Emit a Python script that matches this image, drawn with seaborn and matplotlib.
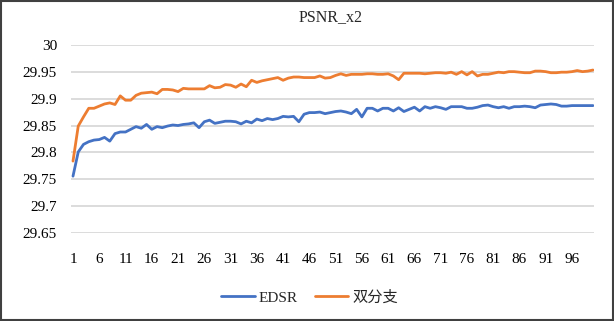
import matplotlib
matplotlib.use("Agg")
import matplotlib.pyplot as plt
from matplotlib.patches import Rectangle
import numpy as np
import pandas as pd
import seaborn as sns

# ---- data ----
epochs = list(range(1, 101))
edsr = [
    29.756, 29.801, 29.815, 29.820, 29.823, 29.824, 29.828, 29.821, 29.835, 29.838,
    29.838, 29.843, 29.848, 29.845, 29.852, 29.843, 29.848, 29.846, 29.849, 29.851,
    29.850, 29.852, 29.853, 29.855, 29.846, 29.857, 29.860, 29.854, 29.856, 29.858,
    29.858, 29.857, 29.853, 29.858, 29.855, 29.862, 29.859, 29.863, 29.861, 29.863,
    29.867, 29.866, 29.867, 29.857, 29.871, 29.874, 29.874, 29.875, 29.872, 29.874,
    29.876, 29.877, 29.875, 29.872, 29.880, 29.866, 29.882, 29.882, 29.877, 29.882,
    29.882, 29.877, 29.883, 29.876, 29.880, 29.884, 29.877, 29.885, 29.882, 29.885,
    29.883, 29.880, 29.885, 29.885, 29.885, 29.882, 29.882, 29.884, 29.887, 29.888,
    29.885, 29.883, 29.885, 29.882, 29.885, 29.885, 29.886, 29.885, 29.883, 29.888,
    29.889, 29.890, 29.889, 29.886, 29.886, 29.887, 29.887, 29.887, 29.887, 29.887,
]
dual = [
    29.784, 29.849, 29.866, 29.882, 29.882, 29.886, 29.890, 29.892, 29.889, 29.905,
    29.897, 29.897, 29.906, 29.910, 29.911, 29.912, 29.909, 29.917, 29.917, 29.916,
    29.913, 29.919, 29.918, 29.918, 29.918, 29.918, 29.924, 29.920, 29.921, 29.926,
    29.925, 29.921, 29.927, 29.922, 29.934, 29.930, 29.933, 29.935, 29.937, 29.939,
    29.934, 29.938, 29.940, 29.940, 29.939, 29.939, 29.939, 29.942, 29.938, 29.939,
    29.943, 29.946, 29.943, 29.945, 29.945, 29.945, 29.946, 29.946, 29.945, 29.945,
    29.946, 29.942, 29.935, 29.947, 29.947, 29.947, 29.947, 29.946, 29.947, 29.948,
    29.948, 29.947, 29.949, 29.945, 29.950, 29.944, 29.950, 29.942, 29.945, 29.945,
    29.947, 29.949, 29.948, 29.950, 29.950, 29.949, 29.948, 29.948, 29.951, 29.951,
    29.950, 29.948, 29.948, 29.949, 29.949, 29.950, 29.952, 29.950, 29.951, 29.953,
]
series_names = ["EDSR", "双分支"]
colors = ["#4472C4", "#ED7D31"]
y_ticks = [29.65, 29.7, 29.75, 29.8, 29.85, 29.9, 29.95, 30.0]
x_ticks = list(range(1, 100, 5))
title = "PSNR_x2"

df = pd.DataFrame({
    "epoch": epochs * 2,
    "psnr": edsr + dual,
    "series": [series_names[0]] * len(edsr) + [series_names[1]] * len(dual),
})

sns.set_theme(style="white")
plt.rcParams["font.family"] = ["Liberation Serif", "Noto Sans CJK SC", "DejaVu Sans"]

W, H = 614, 321
fig = plt.figure(figsize=(W / 100, H / 100), dpi=100)
left, right, top, bottom = 71, 594.4, 44.7, 233.3
ax = fig.add_axes([left / W, 1 - bottom / H, (right - left) / W, (bottom - top) / H])

sns.lineplot(data=df, x="epoch", y="psnr", hue="series", palette=colors,
             hue_order=series_names, linewidth=2.0, ax=ax, legend=True)

ax.set_ylim(29.65, 30.0)
ax.set_xlim(0.62, 100.27)
ax.set_yticks(y_ticks)
ax.set_yticklabels([f"{v:g}" for v in y_ticks])
ax.set_xticks(x_ticks)
ax.set_xticklabels([str(v) for v in x_ticks])
ax.grid(axis="y", color="#D9D9D9", linewidth=1.3)
ax.grid(axis="x", visible=False)
ax.set_axisbelow(True)
for s in ax.spines.values():
    s.set_visible(False)
ax.tick_params(axis="both", length=0, labelsize=11, colors="#000000")
ax.tick_params(axis="x", pad=14)
ax.tick_params(axis="y", pad=10)
ax.set_xlabel("")
ax.set_ylabel("")

handles, labels = ax.get_legend_handles_labels()
ax.get_legend().remove()
fig.legend(handles, labels, loc="center", bbox_to_anchor=(309.5 / W, 1 - 297.7 / H),
           ncol=2, frameon=False, fontsize=11, handlelength=2.2,
           handletextpad=0.25, columnspacing=1.1)

fig.text(331 / W, 1 - 17.5 / H, title, ha="center", va="center", fontsize=11.5)

fig.patches.append(Rectangle((1 / W, 1 / H), 1 - 2 / W, 1 - 2 / H, transform=fig.transFigure,
                             fill=False, edgecolor="#404040", linewidth=1.5))

fig.savefig("out.png", dpi=100)
